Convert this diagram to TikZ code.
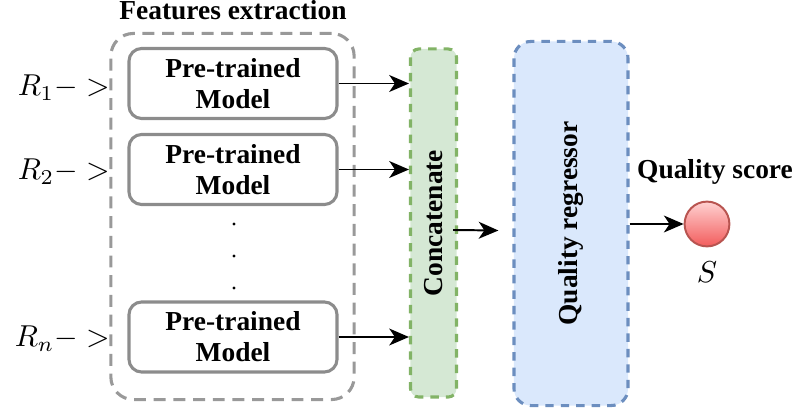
\documentclass[tikz,border=0pt]{standalone}
\usepackage{fontspec}
\setmainfont{Liberation Serif}
\usetikzlibrary{arrows.meta}
\definecolor{boxgray}{HTML}{8C8C8C}
\definecolor{outgray}{HTML}{999999}
\definecolor{catfill}{HTML}{D5E8D4}
\definecolor{catline}{HTML}{82B366}
\definecolor{regfill}{HTML}{DAE8FC}
\definecolor{regline}{HTML}{6C8EBF}
\definecolor{dotline}{HTML}{B85450}
\newcommand{\largemath}[1]{\scalebox{2.15}{$#1$}}
\begin{document}
\begin{tikzpicture}[x=0.025cm,y=-0.025cm,>={Stealth[length=14pt,width=12pt,inset=4pt]},
    txt/.style={font=\bfseries\fontsize{19.5}{22}\selectfont},
    model/.style={txt,draw=boxgray,line width=2.2pt,rounded corners=9pt,align=center,
        minimum width=5.2cm,minimum height=1.75cm,inner sep=0pt},
    link/.style={->,line width=1.4pt}]
\useasboundingbox (0,0) rectangle (796,412);
% feature extractors
\node[draw=outgray,line width=2.2pt,dash pattern=on 8.5pt off 5.5pt,rounded corners=16pt,
    minimum width=6.08cm,minimum height=9.15cm] (feat) at (232.5,216.5) {};
\node[txt,anchor=base] (feattitle) at (233,19.5) {Features extraction};
\node[model] (m1) at (233,83.5) {Pre-trained\\Model};
\node[model] (m2) at (233,169.5) {Pre-trained\\Model};
\node[model] (mn) at (233,337) {Pre-trained\\Model};
\foreach \y in {224,256,288} \fill (234,\y) circle(1.6);
% inputs
\node[anchor=base east,inner sep=0pt] (r1) at (110,96) {\largemath{R_1->}};
\node[anchor=base east,inner sep=0pt] (r2) at (110,180) {\largemath{R_2->}};
\node[anchor=base east,inner sep=0pt] (rn) at (110,347) {\largemath{R_n->}};
% concat + regressor
\node[txt,rotate=90,draw=catline,fill=catfill,line width=2.2pt,dash pattern=on 6pt off 5pt,
    rounded corners=6pt,minimum width=8.7cm,minimum height=1.15cm] (concat) at (433.5,223) {Concatenate};
\node[txt,rotate=90,draw=regline,fill=regfill,line width=2.2pt,dash pattern=on 6pt off 5pt,
    rounded corners=12pt,minimum width=9.1cm,minimum height=2.85cm] (regr) at (571,223.5) {Quality regressor};
\draw[link] (m1.east) -- (m1.east -| concat.north);
\draw[link] (m2.east) -- (m2.east -| concat.north);
\draw[link] (mn.east) -- (mn.east -| concat.north);
\draw[link] ([shift={(-5,7)}]concat.south) -- ([shift={(-14,7)}]regr.north);
% output
\node[circle,draw=dotline,line width=1.4pt,top color=red!18!white,bottom color=red!62!white!95!black,
    minimum size=1.12cm] (score) at (707,224) {};
\node[txt] (scoretitle) at (715,172) {Quality score};
\node (slabel) at (707,272) {\largemath{S}};
\draw[link] (regr.south |- score) -- (score.west);
\end{tikzpicture}
\end{document}
